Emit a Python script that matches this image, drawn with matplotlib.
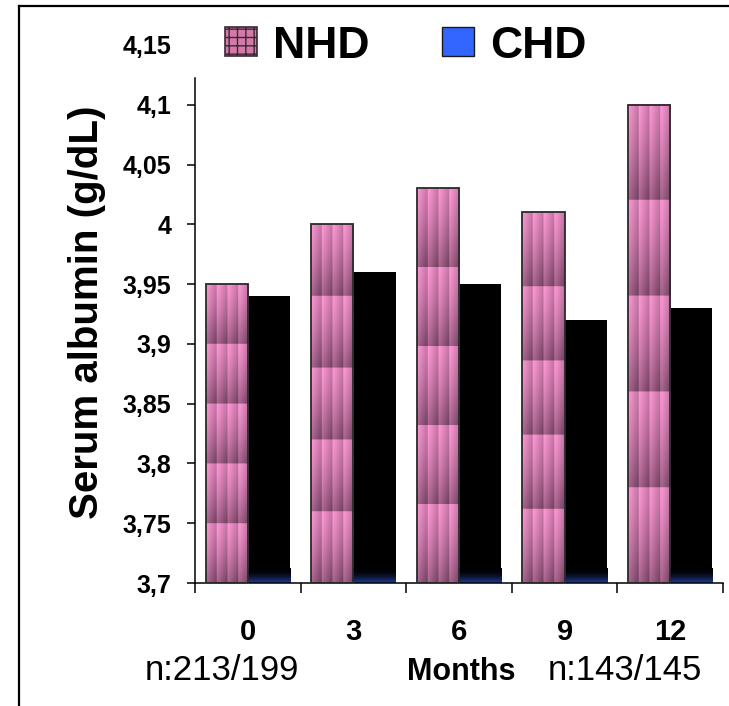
import numpy as np
import matplotlib.pyplot as plt
from matplotlib.patches import Patch
from matplotlib.lines import Line2D

months = ['0', '3', '6', '9', '12']
nhd = [3.95, 4.00, 4.03, 4.01, 4.10]
chd = [3.94, 3.96, 3.95, 3.92, 3.93]
yticks = [3.7, 3.75, 3.8, 3.85, 3.9, 3.95, 4.0, 4.05, 4.1, 4.15]
ytick_labels = ['3,7', '3,75', '3,8', '3,85', '3,9', '3,95', '4', '4,05', '4,1', '4,15']
n_first = 'n:213/199'
n_last = 'n:143/145'

plt.rcParams['font.family'] = ['Liberation Sans', 'DejaVu Sans']


def nhd_texture(rows=400, cols=64, tiles=5, stripes=4):
    # pink striped texture, every tile light at top -> dark at bottom
    v = (np.linspace(0, tiles, rows, endpoint=False) % 1)[:, None]
    h = (np.linspace(0, stripes, cols, endpoint=False) % 1)[None, :]
    t = np.clip(0.6 * v ** 1.3 + 0.45 * h, 0, 1)[..., None]
    light = np.array([1.0, 0.60, 0.84])
    dark = np.array([0.45, 0.26, 0.38])
    return light * (1 - t) + dark * t


def chd_texture(rows=200):
    # black with a dark blue fade at the foot
    t = np.linspace(0, 1, rows)[:, None, None] ** 2
    blue = np.array([0.13, 0.25, 0.62])
    return np.ones((rows, 2, 3)) * blue * t


fig = plt.figure(figsize=(7.29, 7.06), dpi=100)
ax = fig.add_axes([0.2675, 0.1742, 0.7243, 0.7621])

x = np.arange(len(months))
w = 0.4
b1 = ax.bar(x - w / 2, [v - 3.7 for v in nhd], w, bottom=3.7,
            facecolor='none', edgecolor='#2a2a2a', linewidth=1.3, zorder=3)
b2 = ax.bar(x + w / 2, [v - 3.7 for v in chd], w, bottom=3.7,
            color='black', linewidth=0, zorder=2)

tex = nhd_texture()
for p in b1:
    x0, y0 = p.get_x(), p.get_y()
    ax.imshow(tex, extent=[x0, x0 + p.get_width(), y0, y0 + p.get_height()],
              aspect='auto', interpolation='bilinear', zorder=2)

blue_h = 0.012
ctex = chd_texture()
for p in b2:
    x0, y0 = p.get_x(), p.get_y()
    ax.imshow(ctex, extent=[x0, x0 + p.get_width(), y0, y0 + blue_h],
              aspect='auto', interpolation='bilinear', zorder=2.5)

ax.set_xlim(-0.5, len(months) - 0.5)
ax.set_ylim(3.7, 4.15)

ax.set_yticks(yticks)
ax.set_yticklabels(ytick_labels, fontsize=18, fontweight='bold')
ax.tick_params(axis='y', direction='out', length=6, width=1.1, pad=11)
ax.yaxis.get_major_ticks()[-1].tick1line.set_visible(False)

ax.set_xticks(np.arange(-0.5, len(months), 1))
ax.set_xticklabels([])
ax.tick_params(axis='x', which='major', direction='out', length=7, width=1.1)
ax.set_xticks(x, minor=True)
ax.set_xticklabels(months, minor=True, fontsize=21, fontweight='bold')
ax.tick_params(axis='x', which='minor', length=0, pad=25.5)

for s in ['top', 'right']:
    ax.spines[s].set_visible(False)
ax.spines['left'].set_bounds(3.7, 4.1226)
ax.spines['left'].set_linewidth(1.1)
ax.spines['bottom'].set_linewidth(1.1)

ax.set_ylabel('Serum albumin (g/dL)', fontsize=29, fontweight='bold')
ax.yaxis.set_label_coords(-0.168, 0.504)

handles = [Patch(facecolor='#d47aab', edgecolor='#3a2a33', hatch='++', linewidth=1.2),
           Patch(facecolor='#3366ff', edgecolor='#1a1a1a', linewidth=1.0)]
fig.legend(handles, ['NHD', 'CHD'], loc='center left',
           bbox_to_anchor=(225 / 729, 1 - 46 / 706), ncol=2, frameon=False,
           borderpad=0, borderaxespad=0, handlelength=0.72, handleheight=0.63,
           handletextpad=0.36, columnspacing=1.64,
           prop={'size': 32, 'weight': 'bold'})

fig.text(222 / 729, 1 - 670 / 706, n_first, fontsize=25, ha='center', va='center')
fig.text(461 / 729, 1 - 672 / 706, 'Months', fontsize=22, fontweight='bold',
         ha='center', va='center')
fig.text(625 / 729, 1 - 670 / 706, n_last, fontsize=25, ha='center', va='center')

# outer frame (left and top edge only)
fig.add_artist(Line2D([19 / 729, 19 / 729], [0, 1 - 5.5 / 706],
                      color='black', linewidth=1.6, transform=fig.transFigure))
fig.add_artist(Line2D([19 / 729, 1], [1 - 5.5 / 706, 1 - 5.5 / 706],
                      color='black', linewidth=1.6, transform=fig.transFigure))

fig.savefig('out.png', dpi=100)
